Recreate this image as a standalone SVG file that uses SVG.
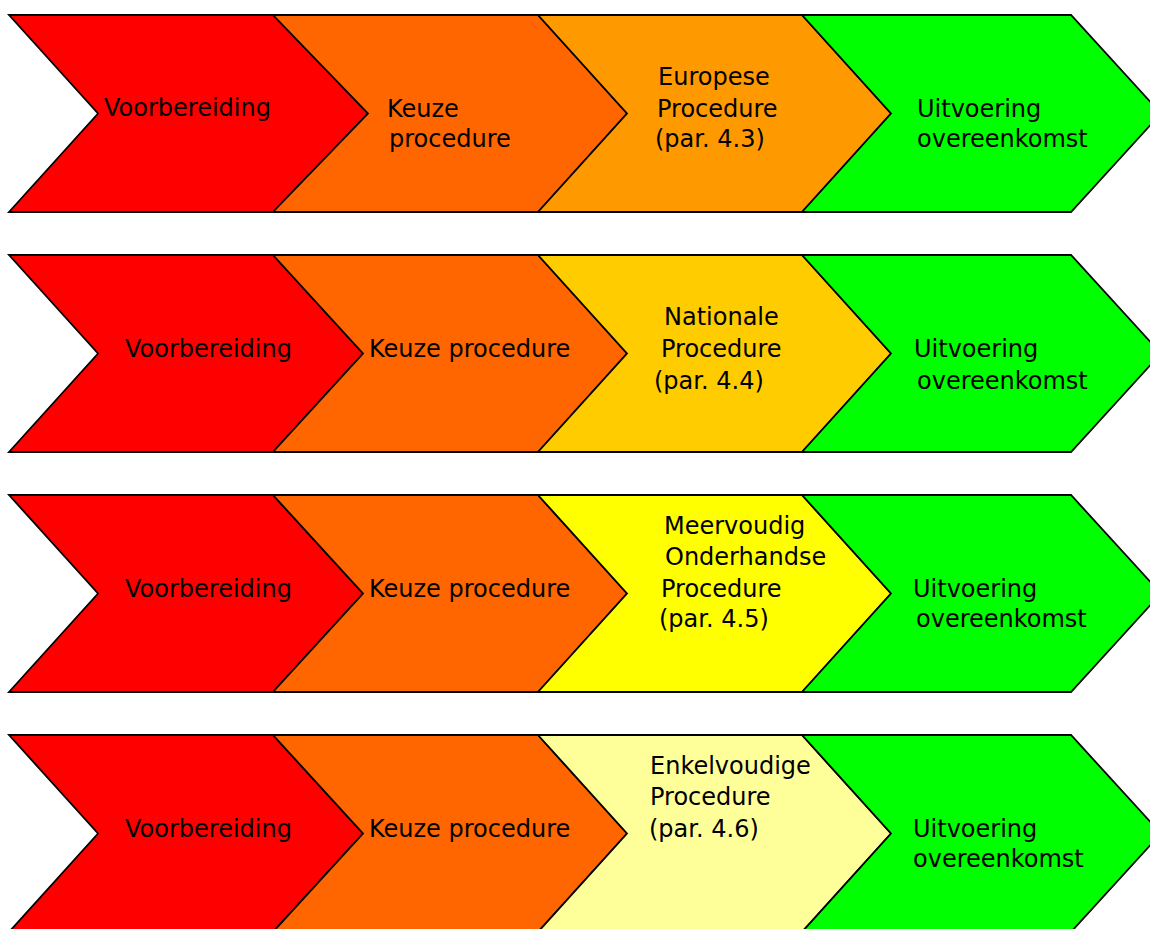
<svg xmlns="http://www.w3.org/2000/svg" width="1150" height="929" viewBox="0 0 1150 929">
<style>
.c{stroke:#000;stroke-width:1.8;stroke-linejoin:miter}
.red{fill:#FF0000}.org{fill:#FF6600}.eu{fill:#FF9900}.nat{fill:#FFCC00}.mv{fill:#FFFF00}.ek{fill:#FFFF99}.grn{fill:#00FF00}
text{font-family:"DejaVu Sans","Verdana",sans-serif;font-size:24px;fill:#000}
</style>
<rect width="1150" height="929" fill="#fff"/>
<!-- Row 1 -->
<g id="r1-voorbereiding"><polygon class="c red" points="9,15 273,15 368,113.5 273,212 9,212 98,113.5"/><text x="104" y="116">Voorbereiding</text></g>
<g id="r1-keuze"><polygon class="c org" points="273,15 538,15 627,113.5 538,212 273,212 368,113.5"/><text x="387" y="116.5">Keuze</text><text x="389" y="147">procedure</text></g>
<g id="r1-europese"><polygon class="c eu" points="538,15 802,15 891,113.5 802,212 538,212 627,113.5"/><text x="658" y="85">Europese</text><text x="657" y="116.5">Procedure</text><text x="655" y="147">(par. 4.3)</text></g>
<g id="r1-uitvoering"><polygon class="c grn" points="802,15 1071,15 1161,113.5 1071,212 802,212 891,113.5"/><text x="917" y="116.5">Uitvoering</text><text x="917" y="147">overeenkomst</text></g>
<!-- Row 2 -->
<g id="r2-voorbereiding"><polygon class="c red" points="9,255 273,255 363,353.5 273,452 9,452 98,353.5"/><text x="125" y="356.5">Voorbereiding</text></g>
<g id="r2-keuze"><polygon class="c org" points="273,255 538,255 627,353.5 538,452 273,452 363,353.5"/><text x="369" y="356.5">Keuze procedure</text></g>
<g id="r2-nationale"><polygon class="c nat" points="538,255 802,255 891,353.5 802,452 538,452 627,353.5"/><text x="664" y="325">Nationale</text><text x="661" y="357">Procedure</text><text x="654" y="389">(par. 4.4)</text></g>
<g id="r2-uitvoering"><polygon class="c grn" points="802,255 1071,255 1161,353.5 1071,452 802,452 891,353.5"/><text x="914" y="357">Uitvoering</text><text x="917" y="389">overeenkomst</text></g>
<!-- Row 3 -->
<g id="r3-voorbereiding"><polygon class="c red" points="9,495 273,495 363,593.5 273,692 9,692 98,593.5"/><text x="125" y="596.5">Voorbereiding</text></g>
<g id="r3-keuze"><polygon class="c org" points="273,495 538,495 627,593.5 538,692 273,692 363,593.5"/><text x="369" y="596.5">Keuze procedure</text></g>
<g id="r3-meervoudig"><polygon class="c mv" points="538,495 802,495 891,593.5 802,692 538,692 627,593.5"/><text x="664" y="533.5">Meervoudig</text><text x="665" y="564.5">Onderhandse</text><text x="661" y="596.5">Procedure</text><text x="659" y="627">(par. 4.5)</text></g>
<g id="r3-uitvoering"><polygon class="c grn" points="802,495 1071,495 1161,593.5 1071,692 802,692 891,593.5"/><text x="913" y="596.5">Uitvoering</text><text x="916" y="627">overeenkomst</text></g>
<!-- Row 4 -->
<g id="r4-voorbereiding"><polygon class="c red" points="9,735 273,735 363,833.5 273,932 9,932 98,833.5"/><text x="125" y="836.5">Voorbereiding</text></g>
<g id="r4-keuze"><polygon class="c org" points="273,735 538,735 627,833.5 538,932 273,932 363,833.5"/><text x="369" y="836.5">Keuze procedure</text></g>
<g id="r4-enkelvoudige"><polygon class="c ek" points="538,735 802,735 891,833.5 802,932 538,932 627,833.5"/><text x="650" y="773.5">Enkelvoudige</text><text x="650" y="804.5">Procedure</text><text x="649" y="836.5">(par. 4.6)</text></g>
<g id="r4-uitvoering"><polygon class="c grn" points="802,735 1071,735 1161,833.5 1071,932 802,932 891,833.5"/><text x="913" y="836.5">Uitvoering</text><text x="913" y="867">overeenkomst</text></g>
<g id="connectors"/>
</svg>
